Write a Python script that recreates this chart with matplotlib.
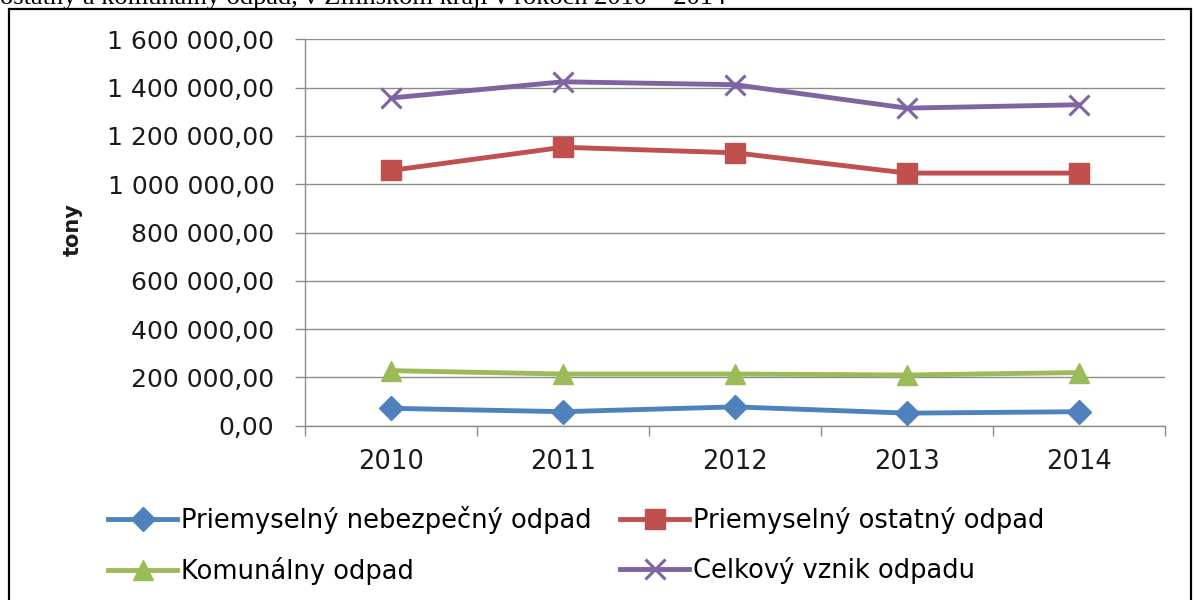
import matplotlib
matplotlib.use("Agg")
import matplotlib.pyplot as plt
from matplotlib.patches import Rectangle
from matplotlib.ticker import FuncFormatter, FixedLocator

years = ["2010", "2011", "2012", "2013", "2014"]
nebezpecny = [72000, 58000, 78000, 52000, 58000]
ostatny = [1057000, 1153000, 1130000, 1046000, 1046000]
komunalny = [228000, 214000, 214000, 210000, 220000]
celkovy = [1357000, 1424000, 1412000, 1315000, 1329000]

labels = ["Priemyselný nebezpečný odpad", "Priemyselný ostatný odpad",
          "Komunálny odpad", "Celkový vznik odpadu"]
yticks = [0, 200000, 400000, 600000, 800000, 1000000, 1200000, 1400000, 1600000]
caption = "ostatný a komunálny odpad, v Žilinskom kraji v rokoch 2010 – 2014"

plt.rcParams['font.family'] = ['DejaVu Sans']

W, H = 1195, 600
fig = plt.figure(figsize=(W / 100, H / 100), dpi=100)
ax = fig.add_axes([305 / W, 1 - 425.7 / H, (1165 - 305) / W, (425.7 - 39.3) / H])

x = list(range(len(years)))
lw = 3.5
l1, = ax.plot(x, nebezpecny, color="#4F81BD", lw=lw, marker="D", ms=12, mec="#4F81BD")
l2, = ax.plot(x, ostatny, color="#C0504D", lw=lw, marker="s", ms=15, mec="#C0504D")
l3, = ax.plot(x, komunalny, color="#9BBB59", lw=lw, marker="^", ms=15, mec="#9BBB59")
l4, = ax.plot(x, celkovy, color="#8064A2", lw=lw, marker="x", ms=14, mew=2.2)

ax.set_xlim(-0.5, len(years) - 0.5)
ax.set_ylim(0, 1600000)
ax.set_yticks(yticks)


def fmt(v, pos):
    s = f"{v:,.2f}".replace(",", " ").replace(".", ",")
    return s


ax.yaxis.set_major_formatter(FuncFormatter(fmt))
ax.set_xticks(x)
ax.set_xticklabels(years)
ax.xaxis.set_minor_locator(FixedLocator([i - 0.5 for i in range(len(years) + 1)]))
ax.tick_params(axis="x", which="major", length=0, pad=17, labelsize=18.5, colors="#1a1a1a")
ax.tick_params(axis="x", which="minor", length=7, width=1, color="#8c8c8c")
ax.tick_params(axis="y", which="major", length=7, width=1, color="#8c8c8c", pad=15,
               labelsize=18, labelcolor="#1a1a1a")
ax.grid(axis="y", color="#8c8c8c", lw=1)
ax.set_axisbelow(True)
for s in ["top", "right"]:
    ax.spines[s].set_visible(False)
for s in ["left", "bottom"]:
    ax.spines[s].set_color("#8c8c8c")
    ax.spines[s].set_linewidth(1)

fig.text(73 / W, 1 - 230 / H, "tony", rotation=90, ha="center", va="center",
         fontsize=15, fontweight="bold", color="#1a1a1a")

leg = fig.legend([l1, l3, l2, l4], [labels[0], labels[2], labels[1], labels[3]],
                 ncol=2, loc="upper left", bbox_to_anchor=(95 / W, 1 - 493 / H),
                 frameon=False, fontsize=18.5, handlelength=2.7, handletextpad=0.15,
                 columnspacing=1.1, labelspacing=0.9, borderpad=0)

fig.patches.append(Rectangle((9 / W, -0.05), (1191 - 9) / W, 1.05 - 9 / H,
                             transform=fig.transFigure, fill=False, ec="black", lw=1.6))

fig.text(0, 1 - 4 / H, caption, ha="left", va="baseline", fontsize=19,
         family=["Liberation Serif", "DejaVu Serif"], color="black")

fig.savefig("out.png", dpi=100)
